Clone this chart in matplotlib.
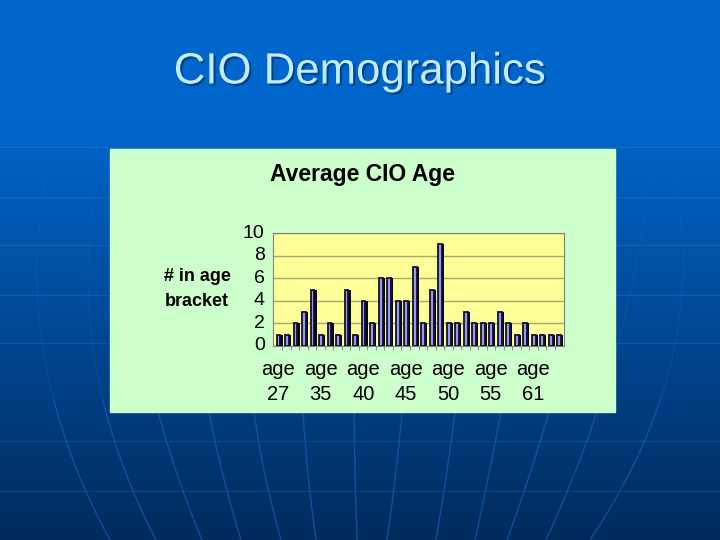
import matplotlib
matplotlib.use('Agg')
import matplotlib.pyplot as plt
import matplotlib.patheffects as pe
from matplotlib.transforms import ScaledTranslation
import numpy as np

# valores
valores = [1, 1, 2, 3, 5, 1, 2, 1, 5, 1, 4, 2, 6, 6, 4, 4, 7,
           2, 5, 9, 2, 2, 3, 2, 2, 2, 3, 2, 1, 2, 1, 1, 1, 1]
rotulos = ['age\n27', 'age\n35', 'age\n40', 'age\n45', 'age\n50', 'age\n55', 'age\n61']
ticks_y = [0, 2, 4, 6, 8, 10]

W, H = 720, 540
plt.rcParams['font.family'] = ['Liberation Sans', 'DejaVu Sans']
fig = plt.figure(figsize=(W / 100, H / 100), dpi=100)

# fundo azul em degrade
bg = fig.add_axes([0, 0, 1, 1])
topo = np.array([0, 102, 204]) / 255
base = np.array([0, 42, 92]) / 255
t = np.linspace(0, 1, 256)[:, None, None]
t = np.clip((t - 0.22) / 0.78, 0, 1)
bg.imshow(topo + (base - topo) * t, aspect='auto', extent=[0, W, H, 0])
bg.set_xlim(0, W)
bg.set_ylim(H, 0)
bg.axis('off')

# linhas claras do globo
for y in [147, 197, 245, 295, 343, 441, 491]:
    bg.plot([0, W], [y, y], color='#5a9ae0', lw=0.7, alpha=0.2)
meridianos = [(37, 57, 110), (88, 106, 156), (130, 158, 202), (190, 209, 241), (245, 254, 281),
              (300, 303, 316), (354, 354, 357), (410, 402, 387), (470, 455, 436), (525, 501, 475),
              (585, 549, 507), (635, 597, 546), (683, 656, 590)]
ys_cima = np.linspace(170, 400, 40)
ys_baixo = np.linspace(400, 540, 30)
for m in meridianos:
    c = np.polyfit([270, 412, 540], m, 2)
    bg.plot(np.polyval(c, ys_cima), ys_cima, color='#1a66c0', lw=1.0, alpha=0.25)
    bg.plot(np.polyval(c, ys_baixo), ys_baixo, color='#1a66c0', lw=1.0, alpha=0.6)

bg.text(360, 72, 'CIO Demographics', color='#c4ecff', fontsize=31.5, ha='center', va='center',
        path_effects=[pe.withSimplePatchShadow(offset=(1.5, -1.5), shadow_rgbFace='#003a78', alpha=0.8)])

# painel verde
bg.add_patch(plt.Rectangle((110, 149), 505, 263, color='#ccffcc', zorder=2))
bg.text(363, 175, 'Average CIO Age', fontsize=16.5, fontweight='bold', ha='center', va='center', zorder=3)
bg.text(197, 289, '# in age\nbracket', fontsize=13, fontweight='bold', ha='center', va='center',
        linespacing=1.6, zorder=3)

ax = fig.add_axes([273 / W, 1 - 346 / H, 291 / W, 113 / H], zorder=3)
ax.set_facecolor('#ffff99')
x = np.arange(len(valores))
ax.bar(x + 0.27, valores, width=0.5, color='#05051a', zorder=3)
ax.bar(x + 0.05, valores, width=0.44, color='#9999ee', edgecolor='#10102a', linewidth=1.3, zorder=4)
ax.set_xlim(-0.6, len(valores) - 0.4)
ax.set_ylim(0, 10)
ax.set_yticks(ticks_y)
ax.yaxis.grid(True, color='#a8a868', lw=1)
ax.set_axisbelow(True)
ax.set_xticks(x[::5])
ax.set_xticklabels(rotulos, fontsize=14.5, linespacing=1.4)
ax.set_xticks(x[:-1] + 0.5, minor=True)
ax.tick_params(axis='y', labelsize=14, length=0, pad=6)
ax.tick_params(axis='x', which='major', length=0, pad=10)
ax.tick_params(axis='x', which='minor', length=3, color='#808080')
# rotulos do eixo y um pouco acima da grade
for rot in ax.get_yticklabels():
    rot.set_transform(rot.get_transform() + ScaledTranslation(0, 2 / 100, fig.dpi_scale_trans))
for s in ax.spines.values():
    s.set_color('#808080')

fig.savefig('out.png', dpi=100)
